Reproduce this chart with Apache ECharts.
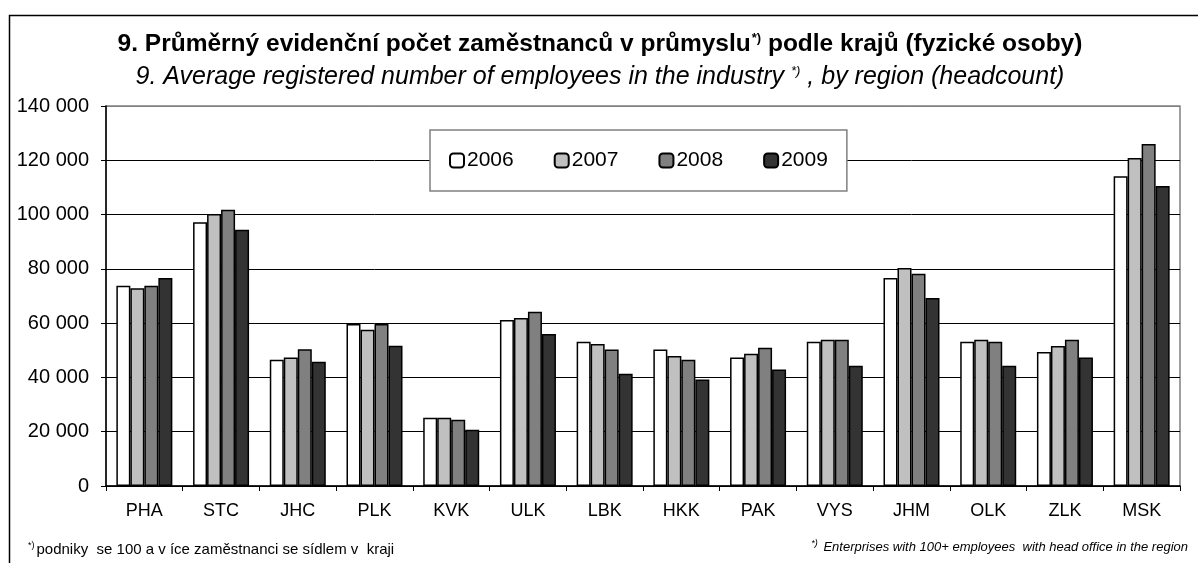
<!DOCTYPE html>
<html>
<head>
<meta charset="utf-8">
<script src="https://cdn.jsdelivr.net/npm/echarts@6/dist/echarts.min.js"></script>
<style>
  html, body { margin: 0; padding: 0; background: #fff; }
  #chart { width: 1198px; height: 563px; }
</style>
</head>
<body>
<div id="chart"></div>
<script>
const regions = ["PHA","STC","JHC","PLK","KVK","ULK","LBK","HKK","PAK","VYS","JHM","OLK","ZLK","MSK"];
const years = ["2006","2007","2008","2009"];
const v2006 = [73800, 97200, 46500, 59700, 25100, 61200, 53100, 50300, 47300, 53100, 76600, 53100, 49400, 114100];
const v2007 = [72900, 100200, 47300, 57600, 25100, 61900, 52300, 47900, 48700, 53900, 80300, 53900, 51600, 120800];
const v2008 = [73800, 101800, 50400, 59700, 24400, 64200, 50300, 46500, 50900, 53900, 78200, 53100, 53900, 126000];
const v2009 = [76600, 94400, 45800, 51700, 20700, 56000, 41400, 39200, 42900, 44300, 69300, 44300, 47300, 110500];
const colors = ["#ffffff", "#c0c0c0", "#808080", "#333333"];

const font = "'Liberation Sans', Arial, sans-serif";
const chart = echarts.init(document.getElementById("chart"));

const fmt = v => String(v).replace(/\B(?=(\d{3})+(?!\d))/g, " ");

chart.setOption({
  animation: false,
  textStyle: { fontFamily: font, color: "#000" },
  title: [
    {
      text: "9. Průměrný evidenční počet zaměstnanců v průmyslu{sup|*)} podle krajů (fyzické osoby)",
      left: 595, textAlign: "center", top: 27,
      textStyle: {
        fontFamily: font, fontSize: 24.5, fontWeight: "bold", color: "#000",
        rich: { sup: { fontSize: 13, fontWeight: "bold", padding: [0, 0, 12, 1] } }
      }
    },
    {
      text: "9. Average registered number of employees in the industry {sup|*)} , by region (headcount)",
      left: 595, textAlign: "center", top: 60,
      textStyle: {
        fontFamily: font, fontSize: 25, fontStyle: "italic", fontWeight: "normal", color: "#000",
        rich: { sup: { fontSize: 13, fontStyle: "italic", padding: [0, 0, 12, 0] } }
      }
    }
  ],
  legend: {
    data: years,
    left: 430, top: 130,
    padding: [20, 19, 20, 19],
    itemWidth: 14, itemHeight: 14, itemGap: 40,
    backgroundColor: "#fff",
    borderColor: "#808080", borderWidth: 1.5,
    textStyle: { fontFamily: font, fontSize: 21, color: "#000", padding: [0, 0, 0, -2] }
  },
  grid: {
    left: 106, right: 18, top: 106, bottom: 77,
    show: true, borderColor: "#808080", borderWidth: 1.5, backgroundColor: "transparent"
  },
  xAxis: {
    type: "category",
    data: regions,
    axisLine: { lineStyle: { color: "#000", width: 1.5 } },
    axisTick: { show: true, length: 5, lineStyle: { color: "#000" } },
    axisLabel: { fontFamily: font, fontSize: 18, color: "#000", margin: 16 }
  },
  yAxis: {
    type: "value",
    min: 0, max: 140000, interval: 20000,
    axisLine: { show: true, lineStyle: { color: "#000", width: 1.5 } },
    axisTick: { show: true, length: 5, lineStyle: { color: "#000" } },
    axisLabel: { fontFamily: font, fontSize: 20, color: "#000", margin: 17, formatter: fmt },
    splitLine: { lineStyle: { color: ["#000","#000","#000","#000","#000","#000","#000","#808080"], width: 1 } }
  },
  series: [v2006, v2007, v2008, v2009].map((d, i) => ({
    name: years[i],
    type: "bar",
    data: d,
    barGap: "0%",
    barCategoryGap: "27%",
    itemStyle: { color: colors[i], borderColor: "#000", borderWidth: 1.5 }
  })),
  graphic: [
    {
      type: "rect", left: 7, top: 13, silent: true,
      shape: { width: 1200, height: 560 },
      style: { fill: "none", stroke: "#000", lineWidth: 1.5 }
    },
    {
      type: "text", left: 28, top: 541,
      style: {
        text: "{sup|*)}podniky  se 100 a v íce zaměstnanci se sídlem v  kraji",
        font: "15px " + font, fill: "#000",
        rich: { sup: { fontSize: 9, padding: [0, 2, 8, 0] } }
      }
    },
    {
      type: "text", right: 10, top: 539,
      style: {
        text: "{sup|*)} Enterprises with 100+ employees  with head office in the region",
        font: "italic 13px " + font, fill: "#000",
        rich: { sup: { fontSize: 9, fontStyle: "italic", padding: [0, 2, 8, 0] } }
      }
    }
  ]
});

window.addEventListener("resize", () => chart.resize());
</script>
</body>
</html>
